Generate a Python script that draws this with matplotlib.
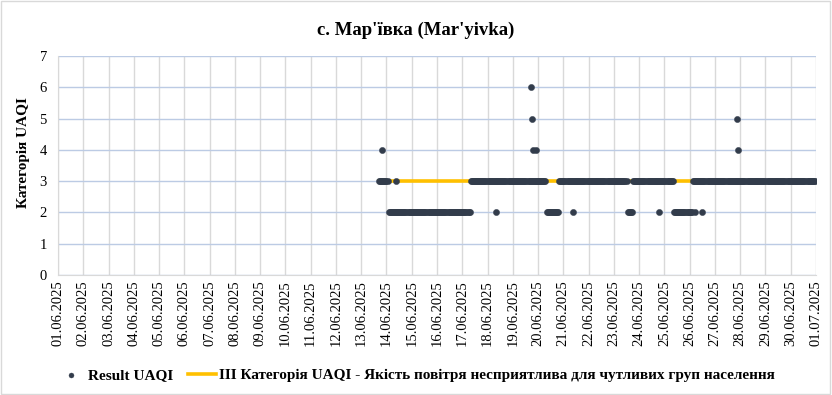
import matplotlib
matplotlib.use("Agg")
import matplotlib.pyplot as plt
import matplotlib.dates as mdates
from matplotlib.patches import Rectangle
import pandas as pd

run_start = ["2025-06-13 17:00", "2025-06-14 02:00", "2025-06-17 08:00",
             "2025-06-20 08:00", "2025-06-20 20:00", "2025-06-23 13:00",
             "2025-06-23 18:00", "2025-06-25 09:00", "2025-06-26 03:00"]
run_end = ["2025-06-14 01:00", "2025-06-17 07:00", "2025-06-20 07:00",
           "2025-06-20 19:00", "2025-06-23 12:00", "2025-06-23 17:00",
           "2025-06-25 08:00", "2025-06-26 02:00", "2025-06-30 23:00"]
run_value = [3, 2, 3, 2, 3, 2, 3, 2, 3]

# single readings that stand apart from the runs
extra_time = ["2025-06-13 20:00", "2025-06-14 09:00", "2025-06-18 08:00",
              "2025-06-19 17:00", "2025-06-19 18:00", "2025-06-19 19:00",
              "2025-06-19 22:00", "2025-06-21 09:00", "2025-06-24 19:00",
              "2025-06-26 05:00", "2025-06-26 12:00", "2025-06-27 21:00",
              "2025-06-27 22:00"]
extra_value = [4, 3, 2, 6, 5, 4, 4, 2, 2, 2, 2, 5, 4]

threshold = 3  # III category

title = "с. Мар'ївка (Mar'yivka)"
ylabel = "Категорія UAQI"
label_points = "Result UAQI"
label_line = "III Категорія UAQI - Якість повітря несприятлива для чутливих груп населення"

times, values = [], []
for s, e, v in zip(run_start, run_end, run_value):
    hrs = pd.date_range(s, e, freq="h")
    times += list(hrs)
    values += [v] * len(hrs)
times += list(pd.to_datetime(extra_time))
values += extra_value

plt.rcParams["font.family"] = ["Liberation Serif", "DejaVu Serif"]

fig = plt.figure(figsize=(8.32, 3.95), dpi=100)
ax = fig.add_axes([0.0697, 0.3038, 0.9111, 0.5544])

ax.plot([pd.Timestamp(run_start[0]), pd.Timestamp(run_end[-1])], [threshold, threshold],
        color="#FFC000", lw=2.6, zorder=2, label=label_line)
ax.scatter(times, values, s=20, color="#323C4B", zorder=3, linewidths=0.3,
           edgecolors="#323C4B", label=label_points)

ax.set_xlim(pd.Timestamp("2025-06-01"), pd.Timestamp("2025-07-01"))
ax.set_ylim(0, 7)
ax.set_yticks(range(0, 8))
ax.xaxis.set_major_locator(mdates.DayLocator())
ax.xaxis.set_major_formatter(mdates.DateFormatter("%d.%m.%Y"))
ax.tick_params(axis="x", labelrotation=90, length=0, labelsize=10.5, pad=4)
ax.tick_params(axis="y", length=0, labelsize=10.5, pad=8)

ax.grid(axis="x", color="#D9D9D9", lw=1)
ax.grid(axis="y", color="#BCCBE4", lw=1)
ax.set_axisbelow(True)
for side in ["top", "right"]:
    ax.spines[side].set_visible(False)
ax.spines["left"].set_color("#D9D9D9")
ax.spines["bottom"].set_color("#D9D9D9")

ax.set_ylabel(ylabel, fontsize=11, fontweight="bold")
ax.yaxis.set_label_coords(-0.037, 0.56)
fig.text(0.5, 0.922, title, ha="center", va="center", fontsize=13.5, fontweight="bold")

h, l = ax.get_legend_handles_labels()
fig.legend(h[::-1], l[::-1], loc="center", bbox_to_anchor=(0.5, 0.05), ncol=2, frameon=False,
           prop={"weight": "bold", "size": 11}, handlelength=1.8, columnspacing=1.0,
           handletextpad=0.2, markerscale=0.8)

fig.patches.append(Rectangle((0.001, 0.002), 0.997, 0.995, transform=fig.transFigure,
                             fill=False, edgecolor="#D9D9D9", lw=1))

fig.savefig("out.png", dpi=100)
